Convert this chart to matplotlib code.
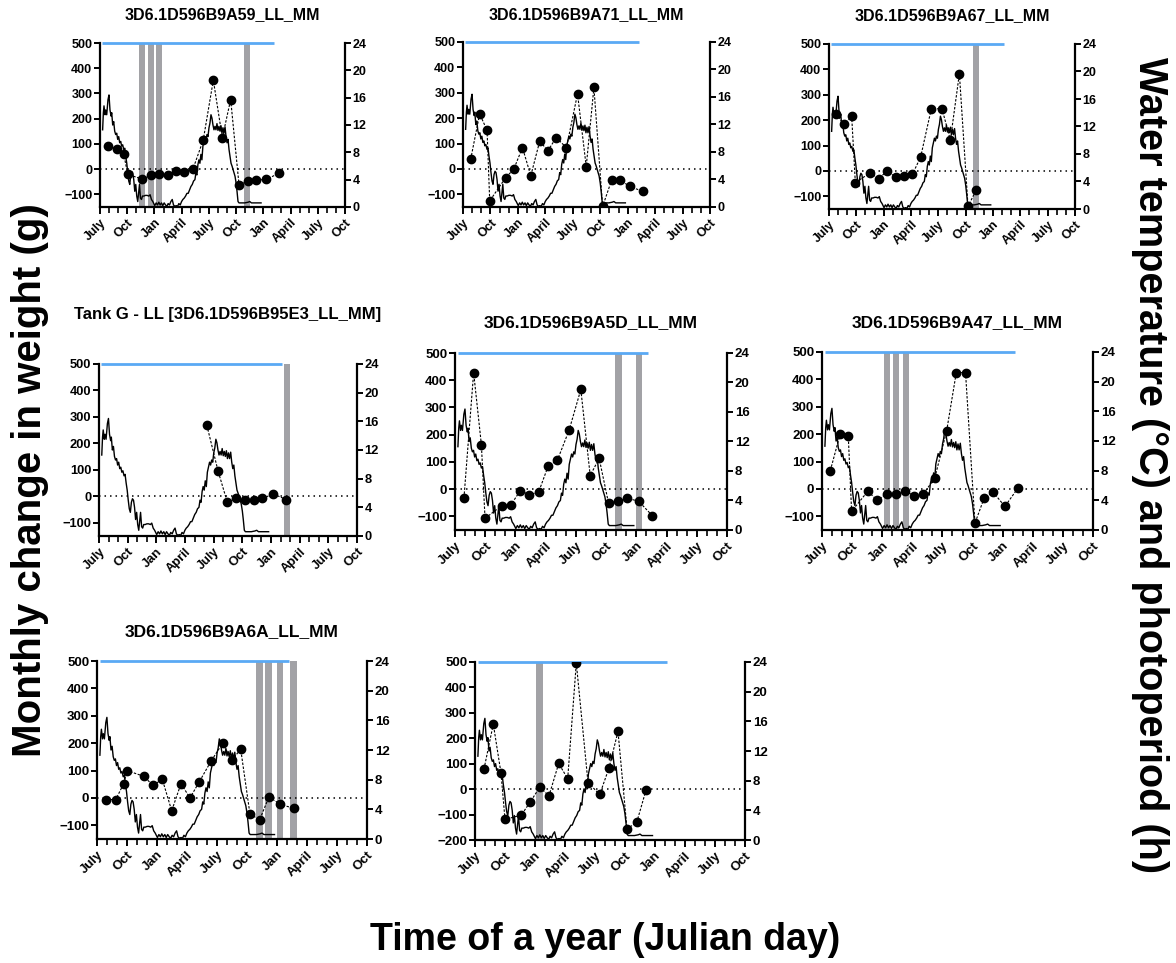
import matplotlib
matplotlib.use("Agg")
import matplotlib.pyplot as plt

plt.rcParams['font.family'] = ['Liberation Sans', 'DejaVu Sans']
plt.rcParams['font.weight'] = 'bold'

W, H = 1176, 963
fig = plt.figure(figsize=(W / 100, H / 100), dpi=100)

# x positions are months elapsed since 1 July of the first year
month_ticks = [0, 3, 6, 9, 12, 15, 18, 21, 24, 27]
month_labels = ["July", "Oct", "Jan", "April", "July", "Oct", "Jan", "April", "July", "Oct"]

# water temperature (deg C), right axis
temp_month = [0.29, 0.37, 0.44, 0.55, 0.63, 0.74, 0.88, 0.99, 1.1, 1.22, 1.29, 1.4, 1.51, 1.62,
              1.73, 1.84, 1.95, 2.06, 2.17, 2.28, 2.39, 2.5, 2.62, 2.73, 2.84, 2.95, 3.06, 3.17,
              3.28, 3.39, 3.5, 3.61, 3.72, 3.83, 3.94, 4.05, 4.16, 4.27, 4.35, 4.46, 4.57, 4.68,
              4.83, 5.01, 5.19, 5.38, 5.52, 5.67, 5.82, 5.93, 6.04, 6.19, 6.34, 6.48, 6.63, 6.78,
              6.92, 7.07, 7.22, 7.37, 7.51, 7.66, 7.81, 7.96, 8.1, 8.25, 8.4, 8.55, 8.69, 8.84,
              8.99, 9.13, 9.28, 9.43, 9.58, 9.72, 9.87, 10.02, 10.17, 10.31, 10.46, 10.57, 10.68,
              10.79, 10.9, 11.01, 11.12, 11.23, 11.34, 11.45, 11.57, 11.68, 11.79, 11.9, 12.01,
              12.12, 12.23, 12.34, 12.45, 12.56, 12.67, 12.78, 12.89, 13.0, 13.11, 13.22, 13.33,
              13.44, 13.55, 13.66, 13.78, 13.89, 14.0, 14.11, 14.22, 14.33, 14.44, 14.55, 14.66,
              14.77, 14.88, 15.0, 15.1, 15.21, 15.32, 15.58, 15.95, 16.32, 16.5, 16.69, 17.24, 17.75]
temp_c = [11.3, 13.8, 14.8, 13.5, 14.2, 13.5, 15.7, 16.4, 14.2, 13.3, 13.8, 12.0, 12.5, 11.1,
          10.6, 10.8, 9.9, 10.3, 9.4, 9.6, 8.9, 9.1, 8.4, 8.6, 7.4, 6.4, 5.0, 3.8,
          3.3, 4.7, 5.2, 5.0, 4.0, 2.3, 3.3, 1.6, 0.8, 2.3, 3.3, 1.3, 1.1, 1.6,
          1.6, 1.7, 1.7, 1.6, 1.8, 1.1, 0.8, 0.5, 0.2, 0.6, 0.3, 0.7, 0.3, 0.6,
          0.2, 0.6, 0.3, 0.1, 0.5, 0.3, 0.8, 1.1, 0.3, 0.1, 0.2, 0.1, 0.5, 0.3,
          0.8, 1.1, 1.3, 1.6, 2.0, 2.0, 2.5, 3.0, 3.3, 3.8, 4.0, 5.0, 4.7,
          6.2, 6.9, 6.4, 7.7, 6.9, 8.9, 9.6, 10.3, 9.9, 10.6, 10.3, 11.6,
          12.3, 13.5, 13.0, 12.0, 11.3, 11.8, 11.3, 12.2, 11.2, 11.8, 11.1, 11.9,
          10.8, 11.6, 10.8, 11.7, 10.3, 9.4, 9.9, 8.4, 7.4, 6.4, 6.0, 5.5,
          5.0, 4.5, 3.5, 2.3, 0.8, 0.6, 0.6, 0.6, 0.7, 0.8, 0.6, 0.6, 0.6]

# photoperiod (h): continuous light
photo_month = [0.25, 19.2]
photo_h = [24, 24]

# monthly change in weight (g) per fish, and months marked with grey bars
a59_month = [0.92, 1.84, 2.62, 3.06, 4.64, 5.6, 6.52, 7.48, 8.4, 9.3, 10.24, 11.38, 12.49, 13.48,
             14.4, 15.32, 16.28, 17.24, 18.34, 19.7]
a59_weight = [92, 79, 59, -21, -39, -24, -21, -24, -9, -11, 0, 116, 353, 124, 276, -62, -45, -43,
              -41, -16]
a59_bars = [4.66, 5.6, 6.54, 16.25]

a71_month = [0.84, 1.82, 2.63, 2.92, 4.67, 5.55, 6.5, 7.41, 8.39, 9.27, 10.18, 11.31, 12.52,
             13.47, 14.31, 15.26, 16.24, 17.12, 18.21, 19.64]
a71_weight = [38, 217, 152, -126, -34, -1, 84, -27, 110, 71, 123, 84, 296, 9, 321, -148, -45, -42,
              -69, -88]
a71_bars = []

a67_month = [0.73, 1.68, 2.49, 2.89, 4.5, 5.45, 6.37, 7.32, 8.27, 9.15, 10.06, 11.23, 12.4, 13.32,
             14.31, 15.26, 16.14]
a67_weight = [225, 183, 215, -46, -8, -30, -1, -24, -21, -14, 55, 245, 245, 122, 383, -140, -76]
a67_bars = [16.16]

e3_month = [11.29, 12.45, 13.43, 14.3, 15.24, 16.22, 17.1, 18.25, 19.62]
e3_weight = [268, 97, -23, -8, -13, -14, -8, 9, -13]
e3_bars = [19.64]

a5d_month = [0.89, 1.85, 2.62, 2.98, 4.64, 5.56, 6.49, 7.39, 8.31, 9.24, 10.17, 11.33, 12.49,
             13.42, 14.31, 15.24, 16.2, 17.12, 18.22, 19.58]
a5d_weight = [-32, 428, 163, -107, -61, -57, -5, -21, -10, 84, 107, 217, 366, 50, 113, -51, -45,
              -34, -44, -97]
a5d_bars = [16.23, 18.28]

a47_month = [0.83, 1.82, 2.62, 2.95, 4.57, 5.5, 6.46, 7.39, 8.31, 9.18, 10.1, 11.23, 12.42, 13.38,
             14.3, 15.24, 16.16, 17.06, 18.22, 19.54]
a47_weight = [67, 202, 192, -82, -8, -42, -17, -17, -6, -27, -18, 39, 212, 425, 425, -125, -33,
              -12, -64, 4]
a47_bars = [6.46, 7.39, 8.38]

a6a_month = [0.93, 1.87, 2.67, 3.0, 4.67, 5.6, 6.53, 7.47, 8.4, 9.3, 10.2, 11.4, 12.57, 13.47,
             14.37, 15.3, 16.27, 17.2, 18.3, 19.67]
a6a_weight = [-6, -6, 52, 100, 79, 46, 68, -47, 52, 0, 57, 134, 200, 137, 178, -60, -79, 4, -23,
              -38]
a6a_bars = [16.27, 17.17, 18.3, 19.63]

p8_month = [0.9, 1.83, 2.6, 3.0, 4.63, 5.53, 6.47, 7.4, 8.37, 9.27, 10.13, 11.3, 12.47, 13.4,
            14.3, 15.2, 16.17, 17.1]
p8_weight = [79, 256, 63, -119, -102, -50, 7, -26, 101, 41, 496, 26, -21, 83, 227, -156, -131, -4]
p8_bars = [6.47]

BAR_GREY = '#a2a2a6'
LL_BLUE = '#5aa9f4'


def panel(box, title, title_y, months, weights, bars, ymin=-150, fs=9, tfs=11):
    x0, y0, x1, y1 = box
    ax = fig.add_axes([x0 / W, 1 - y1 / H, (x1 - x0) / W, (y1 - y0) / H])
    ax2 = ax.twinx()
    ax.set_zorder(ax2.get_zorder() + 1)
    ax.patch.set_visible(False)

    ax.set_xlim(0, 27)
    ax.set_ylim(ymin, 500)
    ax2.set_ylim(0, 24)

    if bars:
        ax2.bar(bars, [24] * len(bars), width=0.66, color=BAR_GREY, zorder=1)
    ax2.plot(temp_month, temp_c, color='black', lw=1.0, zorder=2)
    ax2.plot(photo_month, photo_h, color=LL_BLUE, lw=2.0, zorder=3, clip_on=False,
             solid_capstyle='butt')

    ax.axhline(0, color='black', ls=(0, (1, 2.6)), lw=1.1, zorder=1)
    ax.plot(months, weights, color='black', ls=(0, (2.2, 1.4)), lw=0.8, marker='o', ms=6,
            mfc='black', mec='black', zorder=3)

    for a in (ax, ax2):
        a.spines['top'].set_visible(False)
    ax.spines['right'].set_visible(False)
    ax2.spines['left'].set_visible(False)
    ax2.spines['bottom'].set_visible(False)
    for s in ('left', 'bottom'):
        ax.spines[s].set_linewidth(1.6)
    ax2.spines['right'].set_linewidth(1.6)

    ax.set_yticks(list(range(-100 if ymin > -200 else -200, 501, 100)))
    ax2.set_yticks(list(range(0, 25, 4)))
    ax.set_xticks(month_ticks)
    ax.set_xticks(list(range(28)), minor=True)
    ax.set_xticklabels(month_labels, rotation=45, ha='right', rotation_mode='anchor')

    ax.tick_params(axis='y', length=4, width=1.4, labelsize=fs, pad=1.5)
    ax2.tick_params(axis='y', length=4, width=1.4, labelsize=fs, pad=1.5)
    ax.tick_params(axis='x', which='major', length=5, width=1.4, labelsize=fs, pad=2)
    ax.tick_params(axis='x', which='minor', length=4, width=1.2)
    for lab in ax.get_yticklabels() + ax2.get_yticklabels() + ax.get_xticklabels():
        lab.set_fontweight('bold')

    if title:
        fig.text((x0 + x1) / 2 / W, 1 - title_y / H, title, ha='center', va='center',
                 fontsize=tfs, fontweight='bold')
    return ax


panel((100, 43, 345, 207), "3D6.1D596B9A59_LL_MM", 15, a59_month, a59_weight, a59_bars,
      fs=9, tfs=11.5)
panel((463, 42, 710, 207), "3D6.1D596B9A71_LL_MM", 15, a71_month, a71_weight, a71_bars,
      fs=9, tfs=11.5)
panel((829, 44, 1075, 209), "3D6.1D596B9A67_LL_MM", 16, a67_month, a67_weight, a67_bars,
      fs=9, tfs=11.5)
panel((99, 364, 357, 536), "Tank G - LL [3D6.1D596B95E3_LL_MM]", 315, e3_month, e3_weight,
      e3_bars, fs=9.3, tfs=12)
panel((455, 353, 727, 530), "3D6.1D596B9A5D_LL_MM", 323, a5d_month, a5d_weight, a5d_bars,
      fs=9.5, tfs=12.5)
panel((822, 352, 1093, 530), "3D6.1D596B9A47_LL_MM", 323, a47_month, a47_weight, a47_bars,
      fs=9.5, tfs=12.5)
panel((97, 661, 367, 839), "3D6.1D596B9A6A_LL_MM", 632, a6a_month, a6a_weight, a6a_bars,
      fs=9.5, tfs=12.5)
panel((475, 662, 745, 840), None, 0, p8_month, p8_weight, p8_bars, ymin=-200, fs=9.5)

fig.text(30 / W, 1 - 480 / H, "Monthly change in weight (g)", rotation=90, ha='center',
         va='center', fontsize=29, fontweight='bold')
fig.text(1150 / W, 1 - 465 / H, "Water temperature (\u00b0C) and photoperiod (h)", rotation=270,
         ha='center', va='center', fontsize=28.5, fontweight='bold')
fig.text(605 / W, 1 - 940 / H, "Time of a year (Julian day)", ha='center', va='center',
         fontsize=27, fontweight='bold')

fig.savefig("out.png", dpi=100)
